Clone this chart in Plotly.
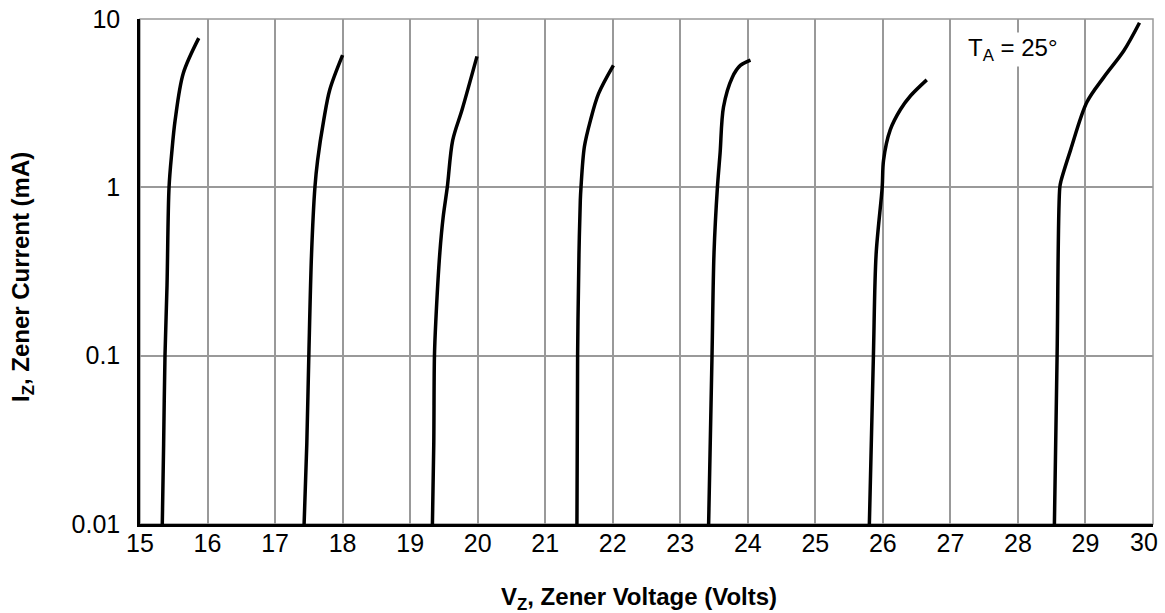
import plotly.graph_objects as go

# Zener voltage (V) and current (mA), one list pair per device
v_15v = [15.33, 15.35, 15.37, 15.40, 15.43, 15.47, 15.52, 15.64, 15.87]
i_15v = [0.01, 0.03, 0.1, 0.26, 1.0, 1.6, 2.5, 4.75, 7.7]

v_18v = [17.43, 17.47, 17.50, 17.54, 17.59, 17.63, 17.72, 17.81, 18.00]
i_18v = [0.01, 0.03, 0.1, 0.40, 1.0, 1.45, 2.5, 3.8, 6.1]

v_20v = [19.33, 19.35, 19.36, 19.38, 19.44, 19.49, 19.55, 19.63, 19.77, 19.99]
i_20v = [0.01, 0.03, 0.1, 0.16, 0.41, 0.67, 1.0, 1.9, 2.9, 6.0]

v_22v = [21.47, 21.48, 21.50, 21.52, 21.53, 21.58, 21.67, 21.79, 22.01]
i_22v = [0.01, 0.1, 0.4, 0.84, 1.0, 1.74, 2.5, 3.6, 5.3]

v_24v = [23.42, 23.47, 23.50, 23.55, 23.59, 23.64, 23.77, 23.89, 24.04]
i_24v = [0.01, 0.1, 0.41, 1.0, 1.6, 3.0, 4.5, 5.3, 5.7]

v_27v = [25.80, 25.86, 25.90, 25.99, 26.01, 26.11, 26.26, 26.41, 26.65]
i_27v = [0.01, 0.1, 0.40, 1.0, 1.45, 2.2, 2.9, 3.5, 4.35]

v_30v = [28.54, 28.58, 28.62, 28.64, 28.78, 29.02, 29.27, 29.57, 29.80]
i_30v = [0.01, 0.1, 1.0, 1.1, 1.67, 3.2, 4.5, 6.5, 9.5]

x_ticks = list(range(15, 31))
x_tick_text = [str(t) for t in x_ticks[:-1]] + [""]
last_x_label = str(x_ticks[-1])
y_ticks = [0.01, 0.1, 1, 10]
y_tick_text = ["0.01", "0.1", "1", "10"]

series = [(v_15v, i_15v), (v_18v, i_18v), (v_20v, i_20v), (v_22v, i_22v),
          (v_24v, i_24v), (v_27v, i_27v), (v_30v, i_30v)]

fig = go.Figure()
for vx, iy in series:
    fig.add_trace(go.Scatter(x=vx, y=iy, mode="lines",
                             line=dict(color="black", width=3.5, shape="spline", smoothing=0.9),
                             showlegend=False, hoverinfo="skip"))

grid = "#999999"
fig.update_layout(
    width=1165, height=613,
    margin=dict(l=140, r=12, t=19, b=89),
    paper_bgcolor="white", plot_bgcolor="white",
    font=dict(family="Liberation Sans, Arial, sans-serif", color="black"),
    shapes=[dict(type="rect", xref="paper", yref="paper", x0=0, x1=1, y0=0, y1=1,
                 line=dict(color=grid, width=1.5), layer="below")],
    annotations=[
        dict(x=27.93, y=0.816, xref="x", yref="y", text="T<sub>A</sub> = 25°",
             showarrow=False, bgcolor="white", font=dict(size=24, color="black")),
        dict(x=x_ticks[-1], y=0, xref="x", yref="paper", xanchor="center", yanchor="top",
             xshift=-9, yshift=-2, text=last_x_label, showarrow=False,
             font=dict(size=25, color="black")),
        dict(x=0.493, y=-0.147, xref="paper", yref="paper", xanchor="center", yanchor="middle",
             text="<b>V<sub>Z</sub>, Zener Voltage (Volts)</b>", showarrow=False,
             font=dict(size=24, color="black")),
        dict(x=-0.116, y=0.49, xref="paper", yref="paper", xanchor="center", yanchor="middle",
             text="<b>I<sub>Z</sub>, Zener Current (mA)</b>", showarrow=False, textangle=-90,
             font=dict(size=24, color="black")),
    ],
)
fig.update_xaxes(range=[15, 30], tickvals=x_ticks, ticktext=x_tick_text,
                 showgrid=True, gridcolor=grid, gridwidth=1.5,
                 showline=True, linecolor="black", linewidth=2.5,
                 ticks="", ticklabelstandoff=-5, ticklabeloverflow="allow",
                 tickfont=dict(size=25), zeroline=False, automargin=False)
fig.update_yaxes(type="log", range=[-2, 1], tickvals=y_ticks, ticktext=y_tick_text,
                 showgrid=True, gridcolor=grid, gridwidth=1.5,
                 showline=True, linecolor="black", linewidth=2.5,
                 ticks="", ticklabelstandoff=12, ticklabeloverflow="allow",
                 tickfont=dict(size=25), zeroline=False, automargin=False)

fig.write_html("out.html",
               post_script="document.body.style.margin='0';document.body.style.padding='0';")
